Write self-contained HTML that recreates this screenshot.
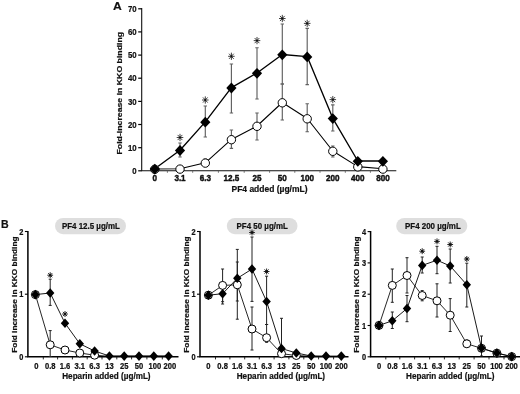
<!DOCTYPE html>
<html><head><meta charset="utf-8"><title>Figure</title>
<style>
html,body{margin:0;padding:0;background:#fff;}
body{width:520px;height:394px;overflow:hidden;}
svg{display:block;will-change:transform;opacity:0.999;filter:blur(0.4px);}
svg text{font-family:"Liberation Sans",sans-serif;font-weight:bold;fill:#111;stroke:#111;stroke-width:0.2px;stroke-linejoin:round;}
</style></head><body>
<svg width="520" height="394" viewBox="0 0 520 394">
<rect width="520" height="394" fill="#fff"/>
<path d="M141.7 8V170.8H396.3" stroke="#111" stroke-width="1.1" fill="none"/>
<path d="M138.2 170.8H141.7" stroke="#000" stroke-width="1.2"/>
<text font-size="7.8" text-anchor="end" transform="translate(136.7 174.0) scale(1 1.16)">0</text>
<path d="M138.2 147.7H141.7" stroke="#000" stroke-width="1.2"/>
<text font-size="7.8" text-anchor="end" transform="translate(136.7 150.8) scale(1 1.16)">10</text>
<path d="M138.2 124.5H141.7" stroke="#000" stroke-width="1.2"/>
<text font-size="7.8" text-anchor="end" transform="translate(136.7 127.7) scale(1 1.16)">20</text>
<path d="M138.2 101.4H141.7" stroke="#000" stroke-width="1.2"/>
<text font-size="7.8" text-anchor="end" transform="translate(136.7 104.6) scale(1 1.16)">30</text>
<path d="M138.2 78.2H141.7" stroke="#000" stroke-width="1.2"/>
<text font-size="7.8" text-anchor="end" transform="translate(136.7 81.4) scale(1 1.16)">40</text>
<path d="M138.2 55.1H141.7" stroke="#000" stroke-width="1.2"/>
<text font-size="7.8" text-anchor="end" transform="translate(136.7 58.3) scale(1 1.16)">50</text>
<path d="M138.2 31.9H141.7" stroke="#000" stroke-width="1.2"/>
<text font-size="7.8" text-anchor="end" transform="translate(136.7 35.1) scale(1 1.16)">60</text>
<path d="M138.2 8.8H141.7" stroke="#000" stroke-width="1.2"/>
<text font-size="7.8" text-anchor="end" transform="translate(136.7 12.0) scale(1 1.16)">70</text>
<path d="M167.4 170.8v2" stroke="#555" stroke-width="0.8"/>
<path d="M192.7 170.8v2" stroke="#555" stroke-width="0.8"/>
<path d="M218.4 170.8v2" stroke="#555" stroke-width="0.8"/>
<path d="M244.2 170.8v2" stroke="#555" stroke-width="0.8"/>
<path d="M269.6 170.8v2" stroke="#555" stroke-width="0.8"/>
<path d="M294.8 170.8v2" stroke="#555" stroke-width="0.8"/>
<path d="M320.0 170.8v2" stroke="#555" stroke-width="0.8"/>
<path d="M345.3 170.8v2" stroke="#555" stroke-width="0.8"/>
<path d="M370.4 170.8v2" stroke="#555" stroke-width="0.8"/>
<text font-size="8.1" style="stroke-width:0.4px" text-anchor="middle" transform="translate(154.8 181.0) scale(1 1.22)">0</text>
<text font-size="8.1" style="stroke-width:0.4px" text-anchor="middle" transform="translate(180.0 181.0) scale(1 1.22)">3.1</text>
<text font-size="8.1" style="stroke-width:0.4px" text-anchor="middle" transform="translate(205.3 181.0) scale(1 1.22)">6.3</text>
<text font-size="8.1" style="stroke-width:0.4px" text-anchor="middle" transform="translate(231.4 181.0) scale(1 1.22)">12.5</text>
<text font-size="8.1" style="stroke-width:0.4px" text-anchor="middle" transform="translate(257.0 181.0) scale(1 1.22)">25</text>
<text font-size="8.1" style="stroke-width:0.4px" text-anchor="middle" transform="translate(282.3 181.0) scale(1 1.22)">50</text>
<text font-size="8.1" style="stroke-width:0.4px" text-anchor="middle" transform="translate(307.2 181.0) scale(1 1.22)">100</text>
<text font-size="8.1" style="stroke-width:0.4px" text-anchor="middle" transform="translate(332.8 181.0) scale(1 1.22)">200</text>
<text font-size="8.1" style="stroke-width:0.4px" text-anchor="middle" transform="translate(357.8 181.0) scale(1 1.22)">400</text>
<text font-size="8.1" style="stroke-width:0.4px" text-anchor="middle" transform="translate(382.9 181.0) scale(1 1.22)">800</text>
<text font-size="8.5" text-anchor="middle" transform="translate(269.5 192.3) scale(1 1.15)">PF4 added (µg/mL)</text>
<text font-size="7.4" text-anchor="middle" transform="translate(122.2 93.2) scale(1 1.18) rotate(-90)">Fold-increase in KKO binding</text>
<text font-size="12.2" text-anchor="start" transform="translate(112.9 9.6) scale(1 0.97)">A</text>
<path d="M180.0 143.0V157.0M178.3 143.0h3.4M178.3 157.0h3.4" stroke="#606060" stroke-width="1.15" fill="none"/>
<path d="M205.3 106.0V137.0M203.6 106.0h3.4M203.6 137.0h3.4" stroke="#606060" stroke-width="1.15" fill="none"/>
<path d="M231.4 64.0V113.0M229.7 64.0h3.4M229.7 113.0h3.4" stroke="#606060" stroke-width="1.15" fill="none"/>
<path d="M257.0 47.7V99.0M255.3 47.7h3.4M255.3 99.0h3.4" stroke="#606060" stroke-width="1.15" fill="none"/>
<path d="M282.3 24.0V84.0M280.6 24.0h3.4M280.6 84.0h3.4" stroke="#606060" stroke-width="1.15" fill="none"/>
<path d="M307.2 28.3V84.6M305.5 28.3h3.4M305.5 84.6h3.4" stroke="#606060" stroke-width="1.15" fill="none"/>
<path d="M332.8 104.8V131.0M331.1 104.8h3.4M331.1 131.0h3.4" stroke="#606060" stroke-width="1.15" fill="none"/>
<path d="M205.3 159.0V166.0M203.6 159.0h3.4M203.6 166.0h3.4" stroke="#606060" stroke-width="1.15" fill="none"/>
<path d="M231.4 130.0V148.3M229.7 130.0h3.4M229.7 148.3h3.4" stroke="#606060" stroke-width="1.15" fill="none"/>
<path d="M257.0 113.0V140.0M255.3 113.0h3.4M255.3 140.0h3.4" stroke="#606060" stroke-width="1.15" fill="none"/>
<path d="M282.3 84.0V120.0M280.6 84.0h3.4M280.6 120.0h3.4" stroke="#606060" stroke-width="1.15" fill="none"/>
<path d="M307.2 103.7V131.7M305.5 103.7h3.4M305.5 131.7h3.4" stroke="#606060" stroke-width="1.15" fill="none"/>
<path d="M332.8 146.0V157.0M331.1 146.0h3.4M331.1 157.0h3.4" stroke="#606060" stroke-width="1.15" fill="none"/>
<polyline points="154.8,169.0 180.0,168.8 205.3,162.8 231.4,139.4 257.0,126.0 282.3,102.5 307.2,118.5 332.8,151.0 357.8,166.6 382.9,168.8" fill="none" stroke="#000" stroke-width="1.1" stroke-linejoin="round"/>
<polyline points="154.8,168.8 180.0,150.2 205.3,121.9 231.4,87.7 257.0,73.0 282.3,54.5 307.2,56.6 332.8,118.3 357.8,161.0 382.9,161.0" fill="none" stroke="#000" stroke-width="1.35" stroke-linejoin="round"/>
<circle cx="154.8" cy="169.3" r="4.2" fill="#fff" stroke="#000" stroke-width="1"/>
<circle cx="180.0" cy="169.1" r="4.2" fill="#fff" stroke="#000" stroke-width="1"/>
<circle cx="205.3" cy="163.1" r="4.2" fill="#fff" stroke="#000" stroke-width="1"/>
<circle cx="231.4" cy="139.7" r="4.2" fill="#fff" stroke="#000" stroke-width="1"/>
<circle cx="257.0" cy="126.3" r="4.2" fill="#fff" stroke="#000" stroke-width="1"/>
<circle cx="282.3" cy="102.8" r="4.2" fill="#fff" stroke="#000" stroke-width="1"/>
<circle cx="307.2" cy="118.8" r="4.2" fill="#fff" stroke="#000" stroke-width="1"/>
<circle cx="332.8" cy="151.3" r="4.2" fill="#fff" stroke="#000" stroke-width="1"/>
<circle cx="357.8" cy="166.9" r="4.2" fill="#fff" stroke="#000" stroke-width="1"/>
<circle cx="382.9" cy="169.1" r="4.2" fill="#fff" stroke="#000" stroke-width="1"/>
<path d="M154.8 163.7L159.9 169.1L154.8 174.5L149.7 169.1Z" fill="#000"/>
<path d="M180.0 145.1L185.1 150.5L180.0 155.9L174.9 150.5Z" fill="#000"/>
<path d="M205.3 116.8L210.4 122.2L205.3 127.6L200.2 122.2Z" fill="#000"/>
<path d="M231.4 82.6L236.5 88.0L231.4 93.4L226.3 88.0Z" fill="#000"/>
<path d="M257.0 67.9L262.1 73.3L257.0 78.7L251.9 73.3Z" fill="#000"/>
<path d="M282.3 49.4L287.4 54.8L282.3 60.2L277.2 54.8Z" fill="#000"/>
<path d="M307.2 51.5L312.3 56.9L307.2 62.3L302.1 56.9Z" fill="#000"/>
<path d="M332.8 113.2L337.9 118.6L332.8 124.0L327.7 118.6Z" fill="#000"/>
<path d="M357.8 155.9L362.9 161.3L357.8 166.7L352.7 161.3Z" fill="#000"/>
<path d="M382.9 155.9L388.0 161.3L382.9 166.7L377.8 161.3Z" fill="#000"/>
<path d="M180.00 133.87L180.00 141.13M182.33 134.93L177.67 140.07M183.30 137.50L176.70 137.50M182.33 140.07L177.67 134.93" stroke="#111" stroke-width="0.8" fill="none"/><circle cx="180.0" cy="137.5" r="0.9" fill="#111"/>
<path d="M205.30 96.37L205.30 103.63M207.63 97.43L202.97 102.57M208.60 100.00L202.00 100.00M207.63 102.57L202.97 97.43" stroke="#111" stroke-width="0.8" fill="none"/><circle cx="205.3" cy="100.0" r="0.9" fill="#111"/>
<path d="M231.40 52.67L231.40 59.93M233.73 53.73L229.07 58.87M234.70 56.30L228.10 56.30M233.73 58.87L229.07 53.73" stroke="#111" stroke-width="0.8" fill="none"/><circle cx="231.4" cy="56.3" r="0.9" fill="#111"/>
<path d="M257.00 36.97L257.00 44.23M259.33 38.03L254.67 43.17M260.30 40.60L253.70 40.60M259.33 43.17L254.67 38.03" stroke="#111" stroke-width="0.8" fill="none"/><circle cx="257.0" cy="40.6" r="0.9" fill="#111"/>
<path d="M282.30 14.87L282.30 22.13M284.63 15.93L279.97 21.07M285.60 18.50L279.00 18.50M284.63 21.07L279.97 15.93" stroke="#111" stroke-width="0.8" fill="none"/><circle cx="282.3" cy="18.5" r="0.9" fill="#111"/>
<path d="M307.20 19.77L307.20 27.03M309.53 20.83L304.87 25.97M310.50 23.40L303.90 23.40M309.53 25.97L304.87 20.83" stroke="#111" stroke-width="0.8" fill="none"/><circle cx="307.2" cy="23.4" r="0.9" fill="#111"/>
<path d="M332.80 95.97L332.80 103.23M335.13 97.03L330.47 102.17M336.10 99.60L329.50 99.60M335.13 102.17L330.47 97.03" stroke="#111" stroke-width="0.8" fill="none"/><circle cx="332.8" cy="99.6" r="0.9" fill="#111"/>
<text font-size="10.6" text-anchor="start" transform="translate(1.0 228.0) scale(1 1.08)">B</text>
<path d="M27.9 231V356.8H178.5" stroke="#000" stroke-width="1.5" fill="none"/>
<path d="M24.9 356.8H27.9" stroke="#000" stroke-width="1.1"/>
<text font-size="7.4" text-anchor="end" transform="translate(23.4 359.8) scale(1 1.1)">0</text>
<path d="M24.9 294.2H27.9" stroke="#000" stroke-width="1.1"/>
<text font-size="7.4" text-anchor="end" transform="translate(23.4 297.2) scale(1 1.1)">1</text>
<path d="M24.9 231.5H27.9" stroke="#000" stroke-width="1.1"/>
<text font-size="7.4" text-anchor="end" transform="translate(23.4 234.5) scale(1 1.1)">2</text>
<path d="M43.3 356.8v2.6" stroke="#111" stroke-width="0.9"/>
<path d="M57.6 356.8v2.6" stroke="#111" stroke-width="0.9"/>
<path d="M72.4 356.8v2.6" stroke="#111" stroke-width="0.9"/>
<path d="M87.2 356.8v2.6" stroke="#111" stroke-width="0.9"/>
<path d="M102.0 356.8v2.6" stroke="#111" stroke-width="0.9"/>
<path d="M116.8 356.8v2.6" stroke="#111" stroke-width="0.9"/>
<path d="M131.6 356.8v2.6" stroke="#111" stroke-width="0.9"/>
<path d="M146.9 356.8v2.6" stroke="#111" stroke-width="0.9"/>
<path d="M162.3 356.8v2.6" stroke="#111" stroke-width="0.9"/>
<text font-size="7.6" text-anchor="middle" transform="translate(36.4 368.6) scale(1 1.16)">0</text>
<text font-size="7.6" text-anchor="middle" transform="translate(50.2 368.6) scale(1 1.16)">0.8</text>
<text font-size="7.6" text-anchor="middle" transform="translate(65.0 368.6) scale(1 1.16)">1.6</text>
<text font-size="7.6" text-anchor="middle" transform="translate(79.8 368.6) scale(1 1.16)">3.1</text>
<text font-size="7.6" text-anchor="middle" transform="translate(94.6 368.6) scale(1 1.16)">6.3</text>
<text font-size="7.6" text-anchor="middle" transform="translate(109.4 368.6) scale(1 1.16)">13</text>
<text font-size="7.6" text-anchor="middle" transform="translate(124.2 368.6) scale(1 1.16)">25</text>
<text font-size="7.6" text-anchor="middle" transform="translate(139.0 368.6) scale(1 1.16)">50</text>
<text font-size="7.6" text-anchor="middle" transform="translate(154.8 368.6) scale(1 1.16)">100</text>
<text font-size="7.6" text-anchor="middle" transform="translate(169.8 368.6) scale(1 1.16)">200</text>
<text font-size="8.15" text-anchor="middle" transform="translate(106.4 379.3) scale(1 1.16)">Heparin added (µg/mL)</text>
<text font-size="7.1" text-anchor="middle" transform="translate(16.5 294.6) scale(1 1.173) rotate(-90)">Fold increase in KKO binding</text>
<rect x="55" y="217.9" width="71" height="16.3" rx="8.1" fill="#dedede"/>
<text font-size="7.95" text-anchor="middle" transform="translate(90.9 229.0) scale(1 1.2)">PF4 12.5 µg/mL</text>
<path d="M50.2 279.2V305.4M48.7 279.2h3.0M48.7 305.4h3.0" stroke="#222" stroke-width="1.0" fill="none"/>
<path d="M50.2 330.6V356.5M48.7 330.6h3.0M48.7 356.5h3.0" stroke="#222" stroke-width="1.0" fill="none"/>
<polyline points="35.4,294.6 50.2,344.8 65.0,350.0 79.8,353.0 94.6,355.2 109.4,356.3 124.2,356.1 139.0,356.1 153.8,356.1 168.6,356.1" fill="none" stroke="#000" stroke-width="0.85" stroke-linejoin="round"/>
<polyline points="35.4,294.6 50.2,293.0 65.0,323.2 79.8,343.8 94.6,351.0 109.4,356.0 124.2,356.1 139.0,356.1 153.8,356.1 168.6,356.1" fill="none" stroke="#000" stroke-width="0.9" stroke-linejoin="round"/>
<circle cx="35.4" cy="294.6" r="4.0" fill="#fff" stroke="#000" stroke-width="1"/>
<circle cx="50.2" cy="344.8" r="4.0" fill="#fff" stroke="#000" stroke-width="1"/>
<circle cx="65.0" cy="350.0" r="4.0" fill="#fff" stroke="#000" stroke-width="1"/>
<circle cx="79.8" cy="353.0" r="4.0" fill="#fff" stroke="#000" stroke-width="1"/>
<circle cx="94.6" cy="355.2" r="4.0" fill="#fff" stroke="#000" stroke-width="1"/>
<path d="M35.4 289.8L39.6 294.6L35.4 299.4L31.2 294.6Z" fill="#000"/>
<path d="M50.2 288.2L54.4 293.0L50.2 297.8L46.0 293.0Z" fill="#000"/>
<path d="M65.0 318.4L69.2 323.2L65.0 328.0L60.8 323.2Z" fill="#000"/>
<path d="M79.8 339.0L84.0 343.8L79.8 348.6L75.6 343.8Z" fill="#000"/>
<path d="M94.6 346.2L98.8 351.0L94.6 355.8L90.4 351.0Z" fill="#000"/>
<path d="M109.4 351.2L113.6 356.0L109.4 360.8L105.2 356.0Z" fill="#000"/>
<path d="M124.2 351.3L128.4 356.1L124.2 360.9L120.0 356.1Z" fill="#000"/>
<path d="M139.0 351.3L143.2 356.1L139.0 360.9L134.8 356.1Z" fill="#000"/>
<path d="M153.8 351.3L158.0 356.1L153.8 360.9L149.6 356.1Z" fill="#000"/>
<path d="M168.6 351.3L172.8 356.1L168.6 360.9L164.4 356.1Z" fill="#000"/>
<path d="M50.20 272.21L50.20 278.19M52.25 273.09L48.15 277.31M53.10 275.20L47.30 275.20M52.25 277.31L48.15 273.09" stroke="#111" stroke-width="0.9" fill="none"/><circle cx="50.2" cy="275.2" r="1.2" fill="#111"/>
<path d="M65.00 311.01L65.00 316.99M67.05 311.89L62.95 316.11M67.90 314.00L62.10 314.00M67.05 316.11L62.95 311.89" stroke="#111" stroke-width="0.9" fill="none"/><circle cx="65.0" cy="314.0" r="1.2" fill="#111"/>
<path d="M200 231V356.8H348.5" stroke="#000" stroke-width="1.5" fill="none"/>
<path d="M197 356.8H200" stroke="#000" stroke-width="1.1"/>
<text font-size="7.4" text-anchor="end" transform="translate(195.5 359.8) scale(1 1.1)">0</text>
<path d="M197 294.2H200" stroke="#000" stroke-width="1.1"/>
<text font-size="7.4" text-anchor="end" transform="translate(195.5 297.2) scale(1 1.1)">1</text>
<path d="M197 231.5H200" stroke="#000" stroke-width="1.1"/>
<text font-size="7.4" text-anchor="end" transform="translate(195.5 234.5) scale(1 1.1)">2</text>
<path d="M215.5 356.8v2.6" stroke="#111" stroke-width="0.9"/>
<path d="M229.9 356.8v2.6" stroke="#111" stroke-width="0.9"/>
<path d="M244.7 356.8v2.6" stroke="#111" stroke-width="0.9"/>
<path d="M259.3 356.8v2.6" stroke="#111" stroke-width="0.9"/>
<path d="M274.1 356.8v2.6" stroke="#111" stroke-width="0.9"/>
<path d="M288.9 356.8v2.6" stroke="#111" stroke-width="0.9"/>
<path d="M303.8 356.8v2.6" stroke="#111" stroke-width="0.9"/>
<path d="M318.6 356.8v2.6" stroke="#111" stroke-width="0.9"/>
<path d="M333.6 356.8v2.6" stroke="#111" stroke-width="0.9"/>
<text font-size="7.6" text-anchor="middle" transform="translate(208.4 368.6) scale(1 1.16)">0</text>
<text font-size="7.6" text-anchor="middle" transform="translate(222.6 368.6) scale(1 1.16)">0.8</text>
<text font-size="7.6" text-anchor="middle" transform="translate(237.3 368.6) scale(1 1.16)">1.6</text>
<text font-size="7.6" text-anchor="middle" transform="translate(252.0 368.6) scale(1 1.16)">3.1</text>
<text font-size="7.6" text-anchor="middle" transform="translate(266.6 368.6) scale(1 1.16)">6.3</text>
<text font-size="7.6" text-anchor="middle" transform="translate(281.5 368.6) scale(1 1.16)">13</text>
<text font-size="7.6" text-anchor="middle" transform="translate(296.3 368.6) scale(1 1.16)">25</text>
<text font-size="7.6" text-anchor="middle" transform="translate(311.2 368.6) scale(1 1.16)">50</text>
<text font-size="7.6" text-anchor="middle" transform="translate(326.0 368.6) scale(1 1.16)">100</text>
<text font-size="7.6" text-anchor="middle" transform="translate(341.3 368.6) scale(1 1.16)">200</text>
<text font-size="8.15" text-anchor="middle" transform="translate(280.9 379.3) scale(1 1.16)">Heparin added (µg/mL)</text>
<text font-size="7.1" text-anchor="middle" transform="translate(188.7 294.6) scale(1 1.173) rotate(-90)">Fold increase in KKO binding</text>
<rect x="226.8" y="217.9" width="70.69999999999999" height="16.3" rx="8.1" fill="#dedede"/>
<text font-size="7.95" text-anchor="middle" transform="translate(262.2 229.0) scale(1 1.2)">PF4 50 µg/mL</text>
<path d="M222.6 286.0V304.0M221.1 286.0h3.0M221.1 304.0h3.0" stroke="#222" stroke-width="1.0" fill="none"/>
<path d="M237.3 249.4V301.0M235.8 249.4h3.0M235.8 301.0h3.0" stroke="#222" stroke-width="1.0" fill="none"/>
<path d="M252.0 237.0V301.4M250.5 237.0h3.0M250.5 301.4h3.0" stroke="#222" stroke-width="1.0" fill="none"/>
<path d="M266.6 276.2V324.5M265.1 276.2h3.0M265.1 324.5h3.0" stroke="#222" stroke-width="1.0" fill="none"/>
<path d="M281.5 318.3V356.0M280.0 318.3h3.0M280.0 356.0h3.0" stroke="#222" stroke-width="1.0" fill="none"/>
<path d="M222.6 269.0V301.7M221.1 269.0h3.0M221.1 301.7h3.0" stroke="#222" stroke-width="1.0" fill="none"/>
<path d="M237.3 262.0V319.2M235.8 262.0h3.0M235.8 319.2h3.0" stroke="#222" stroke-width="1.0" fill="none"/>
<path d="M252.0 307.0V350.0M250.5 307.0h3.0M250.5 350.0h3.0" stroke="#222" stroke-width="1.0" fill="none"/>
<path d="M266.6 324.5V342.3M265.1 324.5h3.0M265.1 342.3h3.0" stroke="#222" stroke-width="1.0" fill="none"/>
<polyline points="208.4,295.2 222.6,285.4 237.3,284.8 252.0,329.0 266.6,337.7 281.5,353.7 296.3,355.5 311.2,356.3 326.0,356.5 341.3,356.5" fill="none" stroke="#000" stroke-width="0.85" stroke-linejoin="round"/>
<polyline points="208.4,295.2 222.6,293.7 237.3,278.3 252.0,269.0 266.6,301.5 281.5,348.5 296.3,353.0 311.2,356.0 326.0,356.1 341.3,356.1" fill="none" stroke="#000" stroke-width="0.9" stroke-linejoin="round"/>
<circle cx="208.4" cy="295.2" r="4.0" fill="#fff" stroke="#000" stroke-width="1"/>
<circle cx="222.6" cy="285.4" r="4.0" fill="#fff" stroke="#000" stroke-width="1"/>
<circle cx="237.3" cy="284.8" r="4.0" fill="#fff" stroke="#000" stroke-width="1"/>
<circle cx="252.0" cy="329.0" r="4.0" fill="#fff" stroke="#000" stroke-width="1"/>
<circle cx="266.6" cy="337.7" r="4.0" fill="#fff" stroke="#000" stroke-width="1"/>
<circle cx="281.5" cy="353.7" r="4.0" fill="#fff" stroke="#000" stroke-width="1"/>
<circle cx="296.3" cy="355.5" r="4.0" fill="#fff" stroke="#000" stroke-width="1"/>
<path d="M208.4 290.4L212.6 295.2L208.4 300.0L204.2 295.2Z" fill="#000"/>
<path d="M222.6 288.9L226.8 293.7L222.6 298.5L218.4 293.7Z" fill="#000"/>
<path d="M237.3 273.5L241.5 278.3L237.3 283.1L233.1 278.3Z" fill="#000"/>
<path d="M252.0 264.2L256.2 269.0L252.0 273.8L247.8 269.0Z" fill="#000"/>
<path d="M266.6 296.7L270.8 301.5L266.6 306.3L262.4 301.5Z" fill="#000"/>
<path d="M281.5 343.7L285.7 348.5L281.5 353.3L277.3 348.5Z" fill="#000"/>
<path d="M296.3 348.2L300.5 353.0L296.3 357.8L292.1 353.0Z" fill="#000"/>
<path d="M311.2 351.2L315.4 356.0L311.2 360.8L307.0 356.0Z" fill="#000"/>
<path d="M326.0 351.3L330.2 356.1L326.0 360.9L321.8 356.1Z" fill="#000"/>
<path d="M341.3 351.3L345.5 356.1L341.3 360.9L337.1 356.1Z" fill="#000"/>
<path d="M252.00 229.51L252.00 235.49M254.05 230.39L249.95 234.61M254.90 232.50L249.10 232.50M254.05 234.61L249.95 230.39" stroke="#111" stroke-width="0.9" fill="none"/><circle cx="252.0" cy="232.5" r="1.2" fill="#111"/>
<path d="M266.60 268.51L266.60 274.49M268.65 269.39L264.55 273.61M269.50 271.50L263.70 271.50M268.65 273.61L264.55 269.39" stroke="#111" stroke-width="0.9" fill="none"/><circle cx="266.6" cy="271.5" r="1.2" fill="#111"/>
<path d="M370.6 231V356.8H520" stroke="#000" stroke-width="1.5" fill="none"/>
<path d="M367.6 356.8H370.6" stroke="#000" stroke-width="1.1"/>
<text font-size="7.4" text-anchor="end" transform="translate(366.1 359.8) scale(1 1.1)">0</text>
<path d="M367.6 325.5H370.6" stroke="#000" stroke-width="1.1"/>
<text font-size="7.4" text-anchor="end" transform="translate(366.1 328.5) scale(1 1.1)">1</text>
<path d="M367.6 294.2H370.6" stroke="#000" stroke-width="1.1"/>
<text font-size="7.4" text-anchor="end" transform="translate(366.1 297.2) scale(1 1.1)">2</text>
<path d="M367.6 262.9H370.6" stroke="#000" stroke-width="1.1"/>
<text font-size="7.4" text-anchor="end" transform="translate(366.1 265.9) scale(1 1.1)">3</text>
<path d="M367.6 231.6H370.6" stroke="#000" stroke-width="1.1"/>
<text font-size="7.4" text-anchor="end" transform="translate(366.1 234.6) scale(1 1.1)">4</text>
<path d="M385.8 356.8v2.6" stroke="#111" stroke-width="0.9"/>
<path d="M399.8 356.8v2.6" stroke="#111" stroke-width="0.9"/>
<path d="M414.6 356.8v2.6" stroke="#111" stroke-width="0.9"/>
<path d="M429.6 356.8v2.6" stroke="#111" stroke-width="0.9"/>
<path d="M444.4 356.8v2.6" stroke="#111" stroke-width="0.9"/>
<path d="M459.2 356.8v2.6" stroke="#111" stroke-width="0.9"/>
<path d="M474.1 356.8v2.6" stroke="#111" stroke-width="0.9"/>
<path d="M489.0 356.8v2.6" stroke="#111" stroke-width="0.9"/>
<path d="M504.0 356.8v2.6" stroke="#111" stroke-width="0.9"/>
<text font-size="7.6" text-anchor="middle" transform="translate(379.0 368.6) scale(1 1.16)">0</text>
<text font-size="7.6" text-anchor="middle" transform="translate(392.5 368.6) scale(1 1.16)">0.8</text>
<text font-size="7.6" text-anchor="middle" transform="translate(407.1 368.6) scale(1 1.16)">1.6</text>
<text font-size="7.6" text-anchor="middle" transform="translate(422.2 368.6) scale(1 1.16)">3.1</text>
<text font-size="7.6" text-anchor="middle" transform="translate(437.0 368.6) scale(1 1.16)">6.3</text>
<text font-size="7.6" text-anchor="middle" transform="translate(451.7 368.6) scale(1 1.16)">13</text>
<text font-size="7.6" text-anchor="middle" transform="translate(466.8 368.6) scale(1 1.16)">25</text>
<text font-size="7.6" text-anchor="middle" transform="translate(481.5 368.6) scale(1 1.16)">50</text>
<text font-size="7.6" text-anchor="middle" transform="translate(496.5 368.6) scale(1 1.16)">100</text>
<text font-size="7.6" text-anchor="middle" transform="translate(511.5 368.6) scale(1 1.16)">200</text>
<text font-size="8.15" text-anchor="middle" transform="translate(450.2 379.3) scale(1 1.16)">Heparin added (µg/mL)</text>
<text font-size="7.1" text-anchor="middle" transform="translate(358.7 294.6) scale(1 1.173) rotate(-90)">Fold increase in KKO binding</text>
<rect x="396.2" y="217.9" width="71.10000000000002" height="16.3" rx="8.1" fill="#dedede"/>
<text font-size="7.95" text-anchor="middle" transform="translate(432.9 229.0) scale(1 1.2)">PF4 200 µg/mL</text>
<path d="M392.3 312.0V328.5M390.8 312.0h3.0M390.8 328.5h3.0" stroke="#222" stroke-width="1.0" fill="none"/>
<path d="M407.0 295.5V321.7M405.5 295.5h3.0M405.5 321.7h3.0" stroke="#222" stroke-width="1.0" fill="none"/>
<path d="M422.2 257.0V273.0M420.7 257.0h3.0M420.7 273.0h3.0" stroke="#222" stroke-width="1.0" fill="none"/>
<path d="M437.0 246.3V273.7M435.5 246.3h3.0M435.5 273.7h3.0" stroke="#222" stroke-width="1.0" fill="none"/>
<path d="M450.2 249.0V283.0M448.7 249.0h3.0M448.7 283.0h3.0" stroke="#222" stroke-width="1.0" fill="none"/>
<path d="M466.8 263.2V307.0M465.3 263.2h3.0M465.3 307.0h3.0" stroke="#222" stroke-width="1.0" fill="none"/>
<path d="M481.5 336.0V356.0M480.0 336.0h3.0M480.0 356.0h3.0" stroke="#222" stroke-width="1.0" fill="none"/>
<path d="M392.3 269.0V302.3M390.8 269.0h3.0M390.8 302.3h3.0" stroke="#222" stroke-width="1.0" fill="none"/>
<path d="M407.0 257.7V293.0M405.5 257.7h3.0M405.5 293.0h3.0" stroke="#222" stroke-width="1.0" fill="none"/>
<path d="M422.2 290.6V300.8M420.7 290.6h3.0M420.7 300.8h3.0" stroke="#222" stroke-width="1.0" fill="none"/>
<path d="M437.0 283.8V317.0M435.5 283.8h3.0M435.5 317.0h3.0" stroke="#222" stroke-width="1.0" fill="none"/>
<path d="M450.2 298.6V331.5M448.7 298.6h3.0M448.7 331.5h3.0" stroke="#222" stroke-width="1.0" fill="none"/>
<path d="M466.8 340.0V347.0M465.3 340.0h3.0M465.3 347.0h3.0" stroke="#222" stroke-width="1.0" fill="none"/>
<polyline points="379.0,325.4 392.3,285.4 407.0,275.5 422.2,295.5 437.0,300.8 450.2,315.2 466.8,343.8 481.5,348.3 496.9,353.2 511.7,356.6" fill="none" stroke="#000" stroke-width="0.85" stroke-linejoin="round"/>
<polyline points="379.0,325.4 392.3,320.8 407.0,308.5 422.2,265.4 437.0,260.2 450.2,266.0 466.8,284.8 481.5,348.1 496.9,353.0 511.7,356.6" fill="none" stroke="#000" stroke-width="0.9" stroke-linejoin="round"/>
<circle cx="379.0" cy="325.4" r="4.0" fill="#fff" stroke="#000" stroke-width="1"/>
<circle cx="392.3" cy="285.4" r="4.0" fill="#fff" stroke="#000" stroke-width="1"/>
<circle cx="407.0" cy="275.5" r="4.0" fill="#fff" stroke="#000" stroke-width="1"/>
<circle cx="422.2" cy="295.5" r="4.0" fill="#fff" stroke="#000" stroke-width="1"/>
<circle cx="437.0" cy="300.8" r="4.0" fill="#fff" stroke="#000" stroke-width="1"/>
<circle cx="450.2" cy="315.2" r="4.0" fill="#fff" stroke="#000" stroke-width="1"/>
<circle cx="466.8" cy="343.8" r="4.0" fill="#fff" stroke="#000" stroke-width="1"/>
<circle cx="481.5" cy="348.3" r="4.0" fill="#fff" stroke="#000" stroke-width="1"/>
<circle cx="496.9" cy="353.2" r="4.0" fill="#fff" stroke="#000" stroke-width="1"/>
<circle cx="511.7" cy="356.6" r="4.0" fill="#fff" stroke="#000" stroke-width="1"/>
<path d="M379.0 320.6L383.2 325.4L379.0 330.2L374.8 325.4Z" fill="#000"/>
<path d="M392.3 316.0L396.5 320.8L392.3 325.6L388.1 320.8Z" fill="#000"/>
<path d="M407.0 303.7L411.2 308.5L407.0 313.3L402.8 308.5Z" fill="#000"/>
<path d="M422.2 260.6L426.4 265.4L422.2 270.2L418.0 265.4Z" fill="#000"/>
<path d="M437.0 255.4L441.2 260.2L437.0 265.0L432.8 260.2Z" fill="#000"/>
<path d="M450.2 261.2L454.4 266.0L450.2 270.8L446.0 266.0Z" fill="#000"/>
<path d="M466.8 280.0L471.0 284.8L466.8 289.6L462.6 284.8Z" fill="#000"/>
<path d="M481.5 343.3L485.7 348.1L481.5 352.9L477.3 348.1Z" fill="#000"/>
<path d="M496.9 348.2L501.1 353.0L496.9 357.8L492.7 353.0Z" fill="#000"/>
<path d="M511.7 351.8L515.9 356.6L511.7 361.4L507.5 356.6Z" fill="#000"/>
<path d="M422.20 248.21L422.20 254.19M424.25 249.09L420.15 253.31M425.10 251.20L419.30 251.20M424.25 253.31L420.15 249.09" stroke="#111" stroke-width="0.9" fill="none"/><circle cx="422.2" cy="251.2" r="1.2" fill="#111"/>
<path d="M437.00 238.41L437.00 244.39M439.05 239.29L434.95 243.51M439.90 241.40L434.10 241.40M439.05 243.51L434.95 239.29" stroke="#111" stroke-width="0.9" fill="none"/><circle cx="437.0" cy="241.4" r="1.2" fill="#111"/>
<path d="M450.20 241.51L450.20 247.49M452.25 242.39L448.15 246.61M453.10 244.50L447.30 244.50M452.25 246.61L448.15 242.39" stroke="#111" stroke-width="0.9" fill="none"/><circle cx="450.2" cy="244.5" r="1.2" fill="#111"/>
<path d="M466.80 256.01L466.80 261.99M468.85 256.89L464.75 261.11M469.70 259.00L463.90 259.00M468.85 261.11L464.75 256.89" stroke="#111" stroke-width="0.9" fill="none"/><circle cx="466.8" cy="259.0" r="1.2" fill="#111"/>
</svg>
</body></html>
